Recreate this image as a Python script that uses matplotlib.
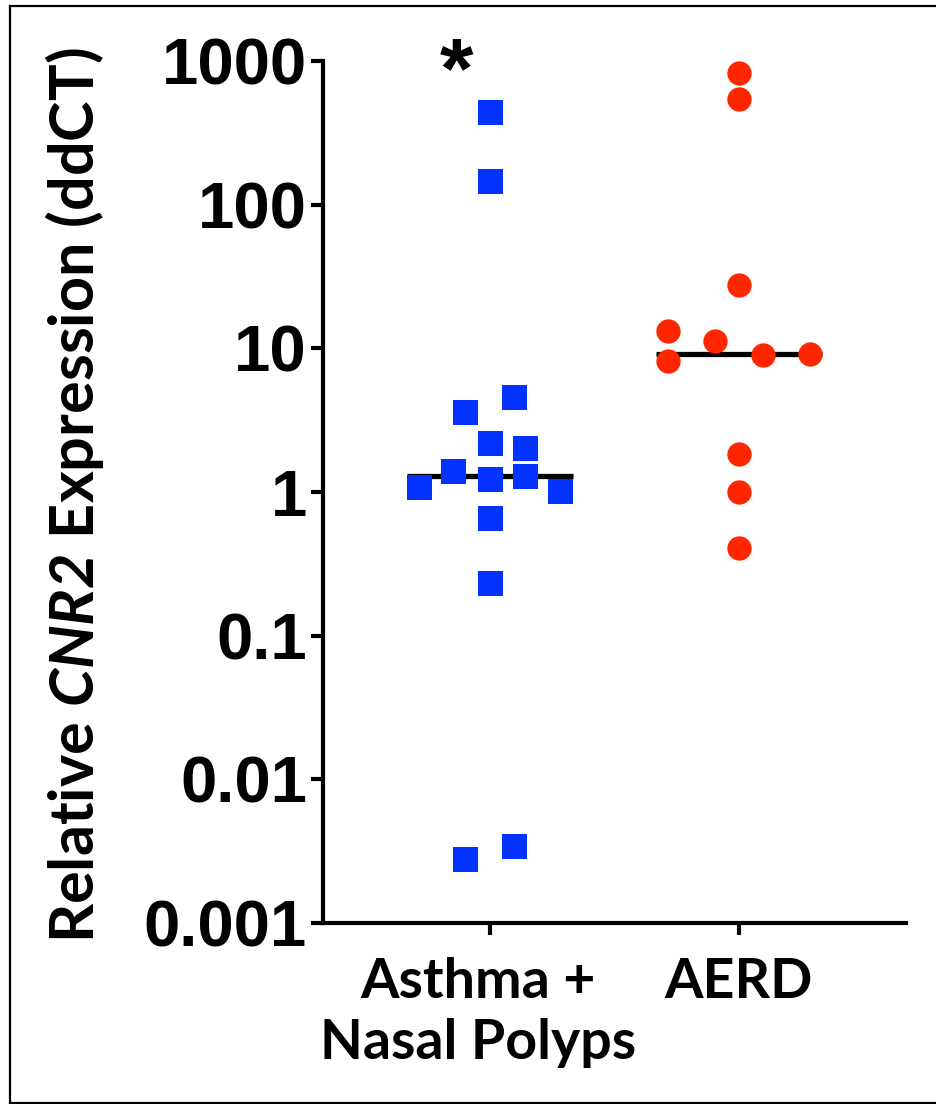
import numpy as np
import matplotlib.pyplot as plt
from matplotlib.lines import Line2D

# ---------- data ----------
groups = ["Asthma +\nNasal Polyps", "AERD"]

# Asthma + Nasal Polyps (blue squares)
anp_x = [1.0, 1.0, 1.098, 0.898, 1.0, 1.139, 0.853, 1.139, 1.0, 0.713, 1.283,
         1.0, 1.0, 1.098, 0.898]
anp_y = [445, 147, 4.62, 3.63, 2.21, 2.01, 1.39, 1.30, 1.24, 1.09, 1.01,
         0.655, 0.234, 0.00341, 0.00277]

# AERD (red circles)
aerd_x = [2.0, 2.0, 2.0, 1.715, 1.905, 2.285, 2.095, 1.715, 2.0, 2.0, 2.0]
aerd_y = [821, 541, 27.5, 13.3, 11.2, 9.18, 9.03, 8.17, 1.84, 1.00, 0.41]

yticks = [0.001, 0.01, 0.1, 1, 10, 100, 1000]
ytick_labels = ["0.001", "0.01", "0.1", "1", "10", "100", "1000"]

blue = "#0433FF"
red = "#FF2600"

plt.rcParams["mathtext.fontset"] = "custom"
plt.rcParams["mathtext.bfit"] = "Lato:bold:italic"

fig = plt.figure(figsize=(9.36, 11.04), dpi=100)
ax = fig.add_axes([323 / 936, 1 - 923 / 1104, (906 - 323) / 936, (923 - 61) / 1104])

ax.plot(anp_x, anp_y, "s", color=blue, markersize=18, markeredgewidth=0,
        clip_on=False, zorder=3)
ax.plot(aerd_x, aerd_y, "o", color=red, markersize=17.5, markeredgewidth=0,
        clip_on=False, zorder=3)

# median lines
for xc, vals in [(1, anp_y), (2, aerd_y)]:
    med = np.median(vals)
    ax.plot([xc - 0.335, xc + 0.335], [med, med], color="black", lw=3.8,
            solid_capstyle="butt", zorder=2)

ax.set_yscale("log")
ax.set_ylim(0.001, 1000)
ax.set_xlim(0.329, 2.671)
ax.minorticks_off()

ax.set_yticks(yticks)
ax.set_yticklabels(ytick_labels, fontfamily="Liberation Sans",
                   fontweight="bold", fontsize=47)
ax.set_xticks([1, 2])
ax.set_xticklabels(["", ""])

for i, g in enumerate(groups):
    ax.text([0.95, 2.0][i], -0.04, g, transform=ax.get_xaxis_transform(),
            ha="center", va="top", fontfamily="Lato", fontweight="bold",
            fontsize=40, linespacing=1.25)

ax.spines["top"].set_visible(False)
ax.spines["right"].set_visible(False)
ax.spines["left"].set_linewidth(3)
ax.spines["bottom"].set_linewidth(3)
ax.tick_params(axis="both", length=8.6, width=3, pad=3)

# y label
fig.text(75 / 936, 1 - 495 / 1104,
         r"Relative $\mathbfit{CNR2}$ Expression (ddCT)",
         rotation=90, ha="center", va="center", fontfamily="Lato",
         fontweight="bold", fontsize=44)

# significance star
ax.text(0.866, 0.983, "*", transform=ax.get_xaxis_transform(), ha="center",
        va="center", fontsize=62, fontweight="bold",
        fontfamily="Liberation Sans")

# frame around the figure
W, H = 936, 1104
for xs, ys in [([10, 10], [6, 1103]), ([10, W], [6, 6]), ([10, W], [1103, 1103])]:
    fig.add_artist(Line2D([x / W for x in xs], [1 - y / H for y in ys],
                          color="black", lw=1.6, transform=fig.transFigure))

fig.savefig("out.png", dpi=100)
